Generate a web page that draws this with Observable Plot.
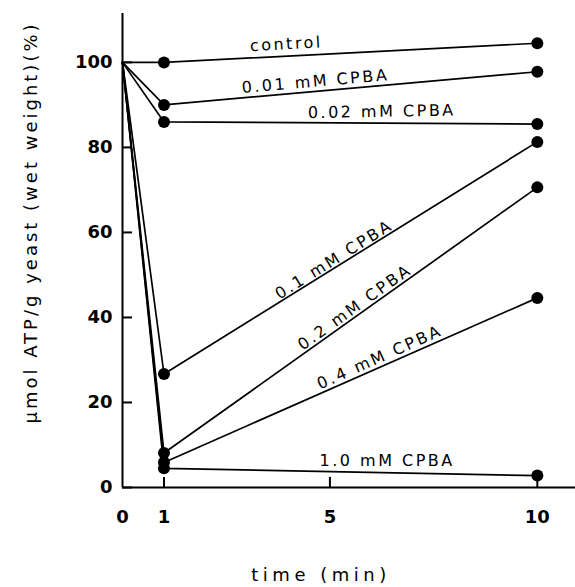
<!DOCTYPE html>
<html><head><meta charset="utf-8">
<script src="https://cdn.jsdelivr.net/npm/d3@7"></script>
<script src="https://cdn.jsdelivr.net/npm/@observablehq/plot@0.6"></script>
<style>
body{margin:0;background:#fff;}
.lbl text{letter-spacing:2.5px;}
.ytitle text{letter-spacing:3px;}
.xtitle text{letter-spacing:4.5px;}
</style>
</head><body><div id="chart"></div>
<script>
const times = [0, 1, 10];
const seriesNames = ["control", "0.01 mM CPBA", "0.02 mM CPBA", "0.1 mM CPBA", "0.2 mM CPBA", "0.4 mM CPBA", "1.0 mM CPBA"];
const control = [100, 100, 104.5];
const cpba001 = [100, 90, 97.8];
const cpba002 = [100, 86, 85.5];
const cpba01 = [100, 26.7, 81.3];
const cpba02 = [100, 8.1, 70.6];
const cpba04 = [100, 5.9, 44.6];
const cpba10 = [100, 4.5, 2.8];
const seriesValues = [control, cpba001, cpba002, cpba01, cpba02, cpba04, cpba10];
const yTicks = [0, 20, 40, 60, 80, 100];
const xTickMarks = [1, 5, 10];
const xTickLabels = [0, 1, 5, 10];
// label anchor positions (data units) and angles
const labelX = [3.95, 4.65, 6.25, 5.1, 5.6, 6.2, 6.38];
const labelY = [104.3, 95.5, 88.4, 53.6, 42.4, 30.6, 6.3];
const labelAngle = [-3, -5, -1, -32, -35.5, -24, 0];

const rows = [];
seriesNames.forEach((s, i) => times.forEach((t, j) => rows.push({series: s, time: t, value: seriesValues[i][j]})));
const labels = seriesNames.map((s, i) => ({text: s, x: labelX[i], y: labelY[i], a: labelAngle[i]}));

const chart = Plot.plot({
  width: 575, height: 587,
  marginLeft: 122, marginRight: 0, marginTop: 13, marginBottom: 100,
  style: {fontFamily: "'DejaVu Sans', sans-serif", background: "#fff", color: "#000"},
  x: {domain: [0, 10.92]},
  y: {domain: [0, 111.5]},
  marks: [
    Plot.axisY({ticks: yTicks, tickSize: 10, dx: 10, text: null, label: null, strokeWidth: 2}),
    Plot.axisY({ticks: yTicks, tickSize: 0, tickPadding: 10, label: null, fontSize: 18, fontWeight: "bold"}),
    Plot.axisX({ticks: xTickMarks, tickSize: 10, dy: -10, text: null, label: null, strokeWidth: 2}),
    Plot.axisX({ticks: xTickLabels, tickSize: 0, tickPadding: 23, label: null, fontSize: 18, fontWeight: "bold"}),
    Plot.ruleX([0], {strokeWidth: 2}),
    Plot.ruleY([0], {strokeWidth: 2}),
    Plot.line(rows, {x: "time", y: "value", z: "series", stroke: "#000", strokeWidth: 1.7}),
    Plot.dot(rows.filter(d => d.time > 0), {x: "time", y: "value", r: 6, fill: "#000"}),
    Plot.text(labels, {x: "x", y: "y", text: "text", rotate: "a", fontSize: 16, className: "lbl"}),
    Plot.text(["μmol ATP/g yeast (wet weight)(%)"], {frameAnchor: "left", textAnchor: "middle", lineAnchor: "middle", rotate: -90, dx: -91, dy: -28, fontSize: 18, className: "ytitle"}),
    Plot.text(["time (min)"], {frameAnchor: "bottom", textAnchor: "middle", lineAnchor: "middle", dx: -28, dy: 88, fontSize: 18, className: "xtitle"})
  ]
});
document.getElementById("chart").appendChild(chart);
</script>
</body></html>
